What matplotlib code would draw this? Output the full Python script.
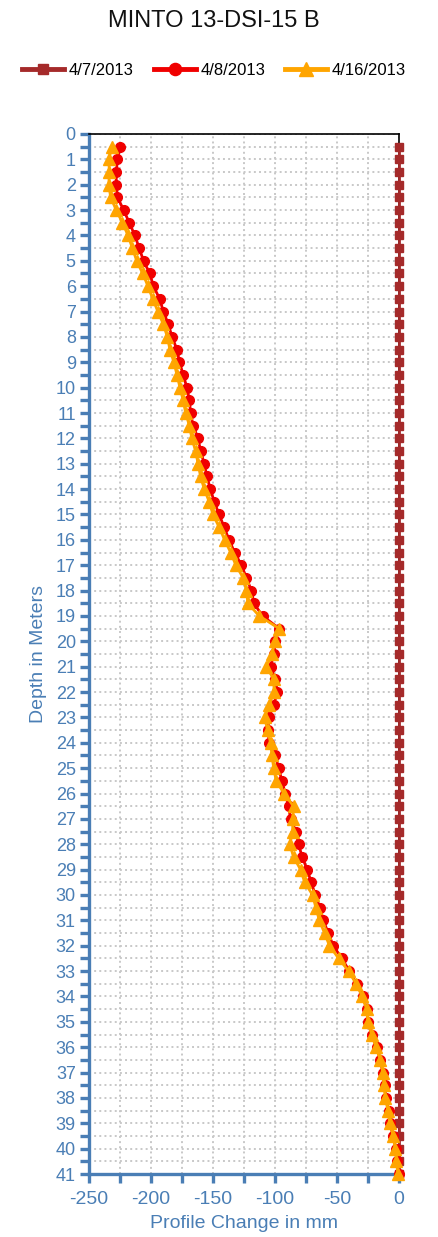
import matplotlib
matplotlib.use("Agg")
import matplotlib.pyplot as plt
from matplotlib.ticker import MultipleLocator

plt.rcParams['font.family'] = ['Liberation Sans', 'DejaVu Sans']
plt.rcParams['axes.unicode_minus'] = False

AXIS_BLUE = "#4a7eb5"

# sensor depths (m)
depth = [0.5, 1.0, 1.5, 2.0, 2.5, 3.0, 3.5, 4.0, 4.5, 5.0,
         5.5, 6.0, 6.5, 7.0, 7.5, 8.0, 8.5, 9.0, 9.5, 10.0,
         10.5, 11.0, 11.5, 12.0, 12.5, 13.0, 13.5, 14.0, 14.5, 15.0,
         15.5, 16.0, 16.5, 17.0, 17.5, 18.0, 18.5, 19.0, 19.5, 20.0,
         20.5, 21.0, 21.5, 22.0, 22.5, 23.0, 23.5, 24.0, 24.5, 25.0,
         25.5, 26.0, 26.5, 27.0, 27.5, 28.0, 28.5, 29.0, 29.5, 30.0,
         30.5, 31.0, 31.5, 32.0, 32.5, 33.0, 33.5, 34.0, 34.5, 35.0,
         35.5, 36.0, 36.5, 37.0, 37.5, 38.0, 38.5, 39.0, 39.5, 40.0,
         40.5, 41.0]

# baseline reading, zero change everywhere
change_0407 = [0.0] * len(depth)

change_0408 = [-225, -227, -228, -228, -227, -222, -217.5, -213, -209.5, -206,
               -201, -198, -193, -190, -186, -183, -179, -177, -174, -171,
               -169, -168, -166, -162, -160, -157, -155, -152, -149, -145,
               -141, -137, -132.5, -127, -123, -119, -117, -110, -96.5, -99.7,
               -101, -103.5, -99.7, -98, -101, -105, -105.6, -104.6, -99.7, -97,
               -94.4, -91.7, -89, -87.4, -83, -81, -78, -74, -70.7, -67.5,
               -63.7, -61, -57, -53, -46, -40, -34, -29, -26, -25,
               -22, -18, -15, -13, -11.6, -10.5, -8.3, -7.3, -4.5, -2.5,
               -1.5, 0.0]

change_0416 = [-231.5, -234, -233.6, -234, -232.5, -228, -223, -218.5, -215, -211.5,
               -206.7, -202.4, -198.6, -194.4, -190, -186.8, -184.7, -181.5, -179, -176.6,
               -174, -172, -169, -167, -164, -162, -160, -157, -153, -150,
               -145, -140.6, -135.7, -131.5, -125.6, -123, -121.8, -112.7, -96.5, -100,
               -102.4, -107, -100.8, -100.8, -104.6, -108.3, -106, -103.5, -102.4, -101,
               -99, -92.7, -85, -85.7, -85.7, -88, -85, -79.3, -76, -69.6,
               -67, -64.2, -60, -56, -48.6, -40.6, -34.5, -29.6, -26, -25,
               -22, -18.5, -15, -13, -12, -11, -8.8, -7.3, -4.6, -3,
               -2, -0.8]

fig = plt.figure(figsize=(4.39, 12.37), dpi=100)
ax = fig.add_axes([0.2027, 0.0509, 0.706, 0.8408])

ax.plot(change_0407, depth, color="#a52a2a", lw=2, marker="s", ms=6,
        label="4/7/2013", zorder=3, clip_on=False)
ax.plot(change_0408, depth, color="#f00000", lw=2, marker="o", ms=7,
        label="4/8/2013", zorder=4, clip_on=False)
ax.plot(change_0416, depth, color="#ffa500", lw=2, marker="^", ms=8,
        label="4/16/2013", zorder=5, clip_on=False)

ax.set_xlim(-250, 0)
ax.set_ylim(41, 0)

ax.xaxis.set_major_locator(MultipleLocator(50))
ax.xaxis.set_minor_locator(MultipleLocator(25))
ax.yaxis.set_major_locator(MultipleLocator(1))
ax.yaxis.set_minor_locator(MultipleLocator(0.5))

ax.grid(True, which="both", color="#c8c8c8", ls=":", lw=1.4, zorder=0)
ax.set_axisbelow(True)

for side in ("left", "bottom"):
    ax.spines[side].set_color(AXIS_BLUE)
    ax.spines[side].set_linewidth(2.4)
for side in ("top", "right"):
    ax.spines[side].set_color("black")
    ax.spines[side].set_linewidth(1.2)

ax.tick_params(which="both", direction="out", length=6.5, width=2.4,
               color=AXIS_BLUE, labelcolor=AXIS_BLUE)
ax.tick_params(axis="y", labelsize=13, pad=3)
ax.tick_params(axis="x", labelsize=14, pad=6)

ax.set_xlabel("Profile Change in mm", color=AXIS_BLUE, fontsize=14, labelpad=5)
ax.set_ylabel("Depth in Meters", color=AXIS_BLUE, fontsize=14, labelpad=6)

fig.text(0.488, 0.983, "MINTO 13-DSI-15 B", ha="center", va="center",
         fontsize=17, color="#111111")

leg = fig.legend(loc="center", bbox_to_anchor=(0.488, 0.943), ncol=3, frameon=False,
                 fontsize=12, handlelength=2.5, handletextpad=0.3, columnspacing=1.2,
                 markerscale=1.25)
for line in leg.get_lines():
    line.set_linewidth(3.5)

fig.savefig("out.png", dpi=100)
